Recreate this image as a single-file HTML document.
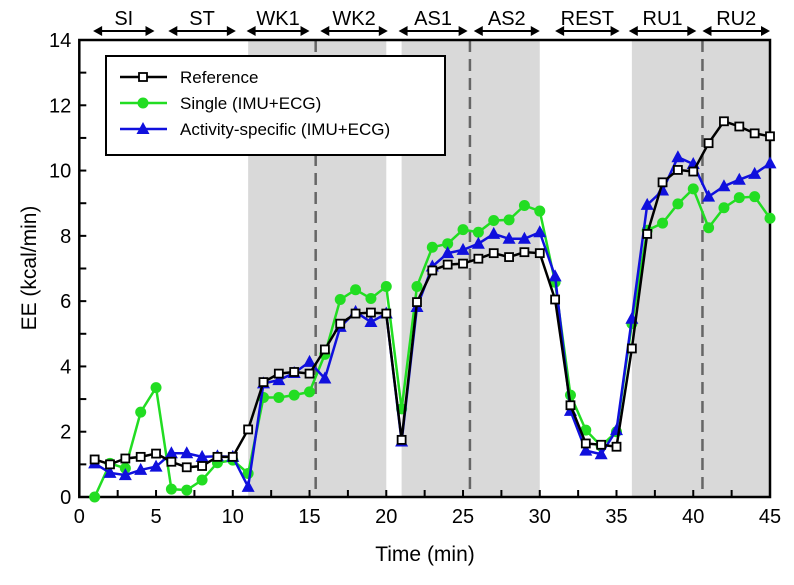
<!DOCTYPE html>
<html><head><meta charset="utf-8"><style>
body{margin:0;background:#fff}
svg text{font-family:"Liberation Sans",sans-serif}
</style></head><body>
<svg id="c" width="794" height="580" xmlns="http://www.w3.org/2000/svg"></svg>
<script>
const times=[1,2,3,4,5,6,7,8,9,10,11,12,13,14,15,16,17,18,19,20,21,22,23,24,25,26,27,28,29,30,31,32,33,34,35,36,37,38,39,40,41,42,43,44,45];
const refVals=[1.15,1.0,1.18,1.23,1.33,1.08,0.91,0.95,1.23,1.23,2.07,3.52,3.78,3.83,3.78,4.52,5.31,5.62,5.65,5.62,1.75,5.97,6.94,7.12,7.15,7.30,7.47,7.35,7.50,7.47,6.05,2.81,1.64,1.6,1.54,4.55,8.06,9.64,10.02,9.97,10.84,11.51,11.35,11.14,11.05];
const singleVals=[0.0,1.03,0.88,2.6,3.35,0.24,0.21,0.52,1.05,1.13,0.72,3.05,3.05,3.12,3.22,4.37,6.05,6.35,6.08,6.45,2.7,6.45,7.65,7.76,8.19,8.11,8.47,8.49,8.93,8.76,6.58,3.12,2.05,1.56,2.0,5.31,8.17,8.39,8.98,9.44,8.25,8.86,9.17,9.2,8.54];
const actVals=[1.03,0.74,0.67,0.83,0.93,1.34,1.34,1.23,1.25,1.23,0.31,3.48,3.58,3.80,4.14,3.63,5.21,5.67,5.36,5.62,1.7,5.82,7.06,7.47,7.57,7.76,8.06,7.91,7.91,8.11,6.76,2.64,1.42,1.31,2.05,5.46,8.95,9.39,10.41,10.2,9.2,9.52,9.72,9.9,10.22];
const xTicks=[0,5,10,15,20,25,30,35,40,45];
const yTicks=[0,2,4,6,8,10,12,14];
const shadeSpans=[[11,20],[21,30],[36,45]];
const dashTimes=[15.4,25.45,40.6];
const phaseLabels=["SI","ST","WK1","WK2","AS1","AS2","REST","RU1","RU2"];
const phaseSpans=[[0.9,4.9],[5.8,10.2],[10.9,15],[15.7,20.1],[20.8,25.3],[25.7,30],[31,35.2],[35.8,40.2],[40.6,45]];

const L=79.3,R=770,T=40,B=497;
const X=t=>L+(R-L)*t/45, Y=v=>B-(B-T)*v/14;
const svg=document.getElementById('c');
const NS='http://www.w3.org/2000/svg';
function mk(tag,at,parent){const e=document.createElementNS(NS,tag);for(const k in at)e.setAttribute(k,at[k]);(parent||svg).appendChild(e);return e;}

shadeSpans.forEach(s=>{
  const r=mk('rect',{x:X(s[0]),y:T,width:X(s[1])-X(s[0]),height:B-T,fill:'#d9d9d9'});
  
  
});
dashTimes.forEach(d=>{
  const l=mk('line',{x1:X(d),x2:X(d),y1:T,y2:B,stroke:'#666','stroke-width':2.5,'stroke-dasharray':'12,7'});
  
  
});
const fr=mk('rect',{x:L,y:T,width:R-L,height:B-T,fill:'none',stroke:'#000','stroke-width':2.5});


for(let t=0;t<=45;t+=2.5){mk('line',{x1:X(t),x2:X(t),y1:B,y2:B-7,stroke:'#000','stroke-width':2});}
xTicks.forEach(t=>{
  const e=mk('text',{x:X(t),y:B+26,'text-anchor':'middle','font-size':20});
  e.textContent=t;
  
  
});
for(let v=0;v<=14;v+=1){mk('line',{x1:L,x2:L+7,y1:Y(v),y2:Y(v),stroke:'#000','stroke-width':2});}
yTicks.forEach(v=>{
  const e=mk('text',{x:L-8,y:Y(v)+7,'text-anchor':'end','font-size':20});
  e.textContent=v;
  
  
});
const xt=mk('text',{x:425,y:561,'text-anchor':'middle','font-size':21});
xt.textContent='Time (min)';


const yt=mk('text',{x:36,y:268,'text-anchor':'middle','font-size':21,transform:'rotate(-90 36 268)'});
yt.textContent='EE (kcal/min)';


phaseSpans.forEach((s,i)=>{
  const g=mk('g',{});
  
  
  const a=X(s[0]),b=X(s[1]),y=31;
  mk('line',{x1:a+4,x2:b-4,y1:y,y2:y,stroke:'#000','stroke-width':2},g);
  mk('polygon',{points:`${a},${y} ${a+9},${y-5} ${a+9},${y+5}`,fill:'#000'},g);
  mk('polygon',{points:`${b},${y} ${b-9},${y-5} ${b-9},${y+5}`,fill:'#000'},g);
  const tx=mk('text',{x:(a+b)/2,y:y-6,'text-anchor':'middle','font-size':20},g);
  tx.textContent=phaseLabels[i];
});
function marker(kind,x,y,color,g){
  if(kind==='sq') mk('rect',{x:x-4,y:y-4,width:8,height:8,fill:'#fff',stroke:'#000','stroke-width':1.8},g);
  else if(kind==='ci') mk('circle',{cx:x,cy:y,r:5.5,fill:color},g);
  else mk('polygon',{points:`${x},${y-7} ${x-6.5},${y+5} ${x+6.5},${y+5}`,fill:color},g);
}
function series(vals,color,kind,name){
  const g=mk('g',{});
  
  
  mk('polyline',{points:vals.map((v,i)=>X(times[i])+','+Y(v)).join(' '),fill:'none',stroke:color,'stroke-width':2.5},g);
  vals.forEach((v,i)=>marker(kind,X(times[i]),Y(v),color,g));
}
series(singleVals,'#22dd22','ci','single-series');
series(actVals,'#1010dd','tr','activity-specific-series');
series(refVals,'#000','sq','reference-series');
const lg=mk('g',{});


mk('rect',{x:106,y:56,width:339,height:99,fill:'#fff',stroke:'#000','stroke-width':2},lg);
const legs=[['Reference','#000','sq'],['Single (IMU+ECG)','#22dd22','ci'],['Activity-specific (IMU+ECG)','#1010dd','tr']];
legs.forEach((l,i)=>{
  const y=77+i*26;
  const e=mk('g',{},lg);
  
  
  mk('line',{x1:120,x2:167,y1:y,y2:y,stroke:l[1],'stroke-width':2.5},e);
  marker(l[2],143,y,l[1],e);
  const t=mk('text',{x:180,y:y+6,'font-size':17},e);
  t.textContent=l[0];
});
</script>
</body></html>
